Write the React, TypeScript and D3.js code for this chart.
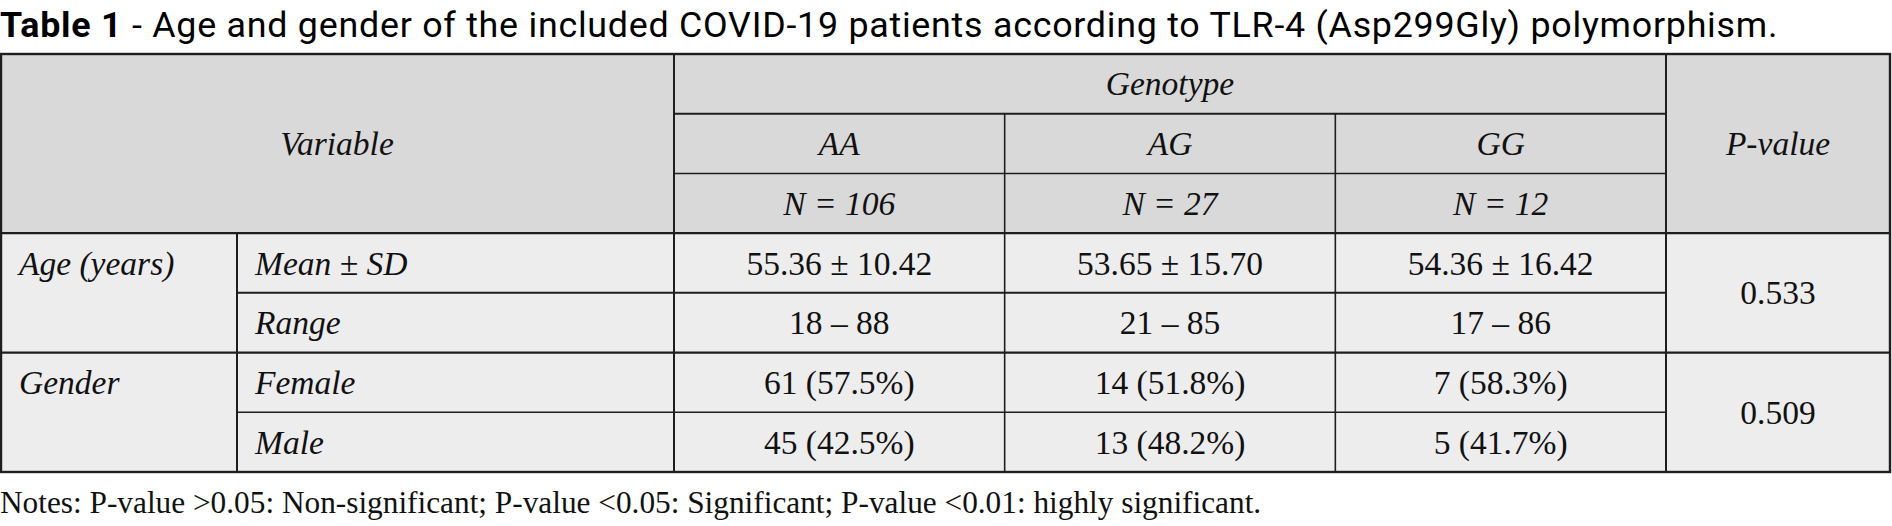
import { useEffect, useRef } from 'react';
import * as d3 from 'd3';

const titleBold = 'Table 1';
const titleRest = ' - Age and gender of the included COVID-19 patients according to TLR-4 (Asp299Gly) polymorphism.';
const notesText = 'Notes: P-value >0.05: Non-significant; P-value <0.05: Significant; P-value <0.01: highly significant.';

const genotypes = ['AA', 'AG', 'GG'];
const genotypeN = [106, 27, 12];
const groupLabels = ['Age (years)', 'Gender'];
const rowLabels = ['Mean ± SD', 'Range', 'Female', 'Male'];
const aaValues = ['55.36 ± 10.42', '18 – 88', '61 (57.5%)', '45 (42.5%)'];
const agValues = ['53.65 ± 15.70', '21 – 85', '14 (51.8%)', '13 (48.2%)'];
const ggValues = ['54.36 ± 16.42', '17 – 86', '7 (58.3%)', '5 (41.7%)'];
const pValues = ['0.533', '0.509'];

const W = 1892;
const H = 526;

export default function App() {
  const svgRef = useRef<SVGSVGElement>(null);

  useEffect(() => {
    document.body.style.margin = '0';
    if (!svgRef.current) return;
    const svg = d3.select(svgRef.current);
    svg.selectAll('*').remove();

    const serif = '"Liberation Serif", "Times New Roman", serif';
    const sans = 'Roboto, "Open Sans", sans-serif';
    const fs = 33.5;
    const lineColor = '#1e1e1e';
    const headFill = '#d9d9d9';
    const bodyFill = '#ededed';

    // layout
    const tableLeft = 1;
    const tableRight = 1890;
    const col1 = 237;
    const col2 = 674;
    const colP = 1666;

    const y = d3.scaleBand<number>()
      .domain(d3.range(7))
      .range([54, 472]);
    const rh = y.bandwidth();
    const top = y(0)!;
    const bottom = y(6)! + rh;

    const x = d3.scaleBand<string>()
      .domain(genotypes)
      .range([col2, colP]);

    const values = [aaValues, agValues, ggValues];

    // fills
    svg.append('rect')
      .attr('x', tableLeft).attr('y', top)
      .attr('width', tableRight - tableLeft).attr('height', rh * 3)
      .attr('fill', headFill);
    svg.append('rect')
      .attr('x', tableLeft).attr('y', y(3)!)
      .attr('width', tableRight - tableLeft).attr('height', rh * 4)
      .attr('fill', bodyFill);

    const line = (x1: number, y1: number, x2: number, y2: number, w: number) => {
      svg.append('line')
        .attr('x1', x1).attr('y1', y1).attr('x2', x2).attr('y2', y2)
        .attr('stroke', lineColor)
        .attr('stroke-width', w);
    };

    // header grid
    line(col2, y(1)!, colP, y(1)!, 2);
    line(col2, y(2)!, colP, y(2)!, 1.6);
    genotypes.slice(1).forEach(g => line(x(g)!, y(1)!, x(g)!, y(3)!, 1.6));
    line(tableLeft, y(3)!, tableRight, y(3)!, 2.2);

    // body grid
    line(col1, y(4)!, colP, y(4)!, 2);
    line(tableLeft, y(5)!, tableRight, y(5)!, 2.2);
    line(col1, y(6)!, colP, y(6)!, 1.6);
    genotypes.slice(1).forEach(g => line(x(g)!, y(3)!, x(g)!, bottom, 1.6));
    line(col1, y(3)!, col1, bottom, 2);
    line(col2, top, col2, bottom, 2);
    line(colP, top, colP, bottom, 2);

    // outer border
    svg.append('rect')
      .attr('x', tableLeft).attr('y', top)
      .attr('width', tableRight - tableLeft).attr('height', bottom - top)
      .attr('fill', 'none')
      .attr('stroke', lineColor)
      .attr('stroke-width', 2.4);

    const text = (t: string, tx: number, ty: number, anchor: string, italic: boolean) => {
      svg.append('text')
        .attr('x', tx).attr('y', ty)
        .attr('text-anchor', anchor)
        .attr('font-family', serif)
        .attr('font-size', fs)
        .attr('font-style', italic ? 'italic' : 'normal')
        .attr('fill', '#111')
        .text(t);
    };
    const base = 11.5;

    // header text
    text('Variable', col2 / 2, top + rh * 1.5 + base, 'middle', true);
    text('Genotype', (col2 + colP) / 2, top + rh / 2 + base, 'middle', true);
    genotypes.forEach((g, i) => {
      const cx = x(g)! + x.bandwidth() / 2;
      text(g, cx, y(1)! + rh / 2 + base, 'middle', true);
      text(`N = ${genotypeN[i]}`, cx, y(2)! + rh / 2 + base, 'middle', true);
    });
    text('P-value', (colP + tableRight) / 2, top + rh * 1.5 + base, 'middle', true);

    // body text
    groupLabels.forEach((g, i) => {
      text(g, 19, y(3 + i * 2)! + rh / 2 + base, 'start', true);
    });
    rowLabels.forEach((r, i) => {
      text(r, 255, y(3 + i)! + rh / 2 + base, 'start', true);
      genotypes.forEach((g, j) => {
        text(values[j][i], x(g)! + x.bandwidth() / 2, y(3 + i)! + rh / 2 + base, 'middle', false);
      });
    });
    pValues.forEach((p, i) => {
      text(p, (colP + tableRight) / 2, y(3 + i * 2)! + rh + base, 'middle', false);
    });

    // title
    const title = svg.append('text')
      .attr('x', 0).attr('y', 37)
      .attr('font-family', sans)
      .attr('font-size', 35.8)
      .attr('letter-spacing', 0.75)
      .attr('fill', '#000');
    title.append('tspan').attr('font-weight', 'bold').text(titleBold);
    title.append('tspan').text(titleRest);

    // notes
    svg.append('text')
      .attr('x', 0).attr('y', 513)
      .attr('font-family', serif)
      .attr('font-size', 31.3)
      .attr('fill', '#111')
      .text(notesText);
  }, []);

  return (
    <div>
      <svg ref={svgRef} width={W} height={H} style={{ display: 'block', background: '#fff' }}></svg>
    </div>
  );
}
